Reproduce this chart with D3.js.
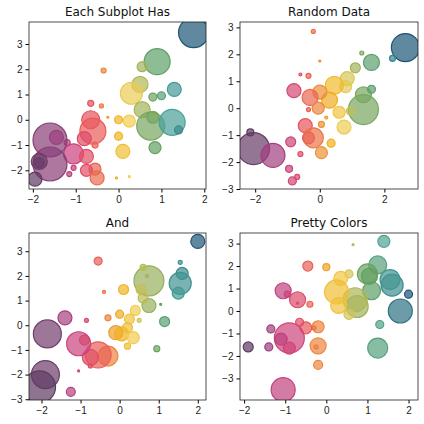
<!DOCTYPE html>
<html><head><meta charset="utf-8">
<script src="https://cdnjs.cloudflare.com/ajax/libs/d3/7.8.5/d3.min.js"></script>
<style>body{margin:0;background:#fff}svg{font-family:"DejaVu Sans",sans-serif}</style>
</head><body><svg id="chart" width="424" height="424"></svg>
<script>
const titles = ["Each Subplot Has", "Random Data", "And", "Pretty Colors"];

// [x, y, size] per subplot
const data1 = [[1.75,3.45,15],[0.9,2.3,13],[0.55,2.1,5],[0.5,1.4,8],[0.3,1.05,11],[1.3,1.2,7],[0.8,0.9,4],[1.0,0.95,4],
 [0.55,0.4,8],[0.8,0.1,6],[0.75,-0.25,14],[1.25,-0.1,13],[1.4,-0.4,4],[0.85,-1.1,6],[0.25,-0.05,6],[0.0,0.0,4],
 [0.0,-0.65,4],[0.1,-1.25,7],[-0.05,-2.3,1],[0.25,-2.25,1],[-0.25,0.1,1],[-0.4,0.55,2],[-0.65,0.65,3],[-0.35,1.95,2.5],
 [-0.65,0.0,9],[-0.6,-0.45,13],[-0.8,-0.75,7],[-0.55,-1.0,3],[-1.2,-0.9,3],[-1.05,-1.35,10],[-0.75,-1.45,7],
 [-0.55,-1.95,6],[-0.75,-2.0,6],[-0.5,-2.3,7],[-1.05,-1.9,2.5],[-1.15,-2.15,2.5],[-1.6,-0.8,17],[-1.45,-0.7,7],
 [-1.6,-1.75,17],[-1.85,-1.65,8],[-1.95,-2.35,7],[-1.85,-1.7,5]];
const data2 = [[2.65,2.25,14],[2.25,1.85,3],[1.6,1.7,8],[1.1,1.5,5],[1.3,2.05,2],[0.85,1.1,7],[0.8,0.8,6],[0.45,0.85,9],
 [1.35,0.5,8],[1.6,0.7,4],[1.35,-0.05,15],[0.95,-0.1,4],[0.6,-0.15,6],[0.75,-0.7,7],[0.3,0.3,8],[0.0,0.6,7],
 [-0.3,0.4,8],[-0.05,0.0,6],[-0.35,-0.05,2],[0.2,-0.35,1.5],[0.05,-0.6,3],[-0.45,-0.65,7],[-0.2,-1.1,10],
 [-0.35,-1.1,6],[0.35,-1.3,4],[0.05,-1.65,6],[-0.6,-1.7,2.5],[-0.9,-1.25,5],[-0.8,0.65,7],[-0.35,1.2,2.5],
 [-0.6,1.25,1.5],[-0.2,2.85,2],[0.0,1.75,1],[-0.95,-2.25,3.5],[-0.7,-2.55,2.5],[-0.85,-2.7,4],[-2.05,-1.5,16],
 [-1.45,-1.75,12],[-2.15,-0.9,3.5]];
const data3 = [[2.0,3.4,7],[1.55,2.55,2],[1.6,2.1,6],[1.55,1.7,11],[1.5,1.3,6],[1.15,0.15,5],[0.95,-0.95,3],[0.75,1.8,15],
 [0.55,1.45,5],[0.6,2.35,3],[0.7,2.0,1.5],[0.75,0.8,7],[0.6,1.1,5],[1.05,0.85,1],[0.4,0.6,5],[0.25,0.25,5],
 [0.5,0.2,2],[0.0,0.45,4],[0.1,1.45,5],[-0.3,0.3,3],[-0.1,-0.3,7],[0.05,-0.35,7],[0.2,-0.1,5],[0.35,-0.5,6],
 [0.2,-0.85,3],[-0.3,-1.25,10],[-0.55,-1.2,13],[-0.75,-1.3,8],[-0.75,-1.65,2],[-1.05,-0.75,12],[-0.9,-0.6,5],
 [-1.4,0.3,7],[-0.85,0.2,2],[-0.4,1.35,1.5],[-0.55,2.6,4],[-1.85,-0.35,14],[-1.9,-2.0,14],[-2.05,-2.5,16],
 [-1.25,-2.7,4.5],[-1.05,-1.85,1]];
const data4 = [[1.8,0.0,12],[2.0,0.75,4],[1.6,1.15,11],[1.55,1.4,10],[1.4,3.1,6],[1.25,2.05,9],[1.3,-0.6,4],[1.25,-1.65,10],
 [1.1,0.9,9],[1.0,1.65,10],[1.05,1.55,8],[0.75,0.2,11],[0.7,0.5,12],[0.65,2.95,1],[0.55,1.65,4],[0.35,1.45,7],
 [0.25,0.85,12],[0.3,0.25,8],[0.55,-0.15,5],[0.0,1.95,3.5],[-0.45,2.0,5],[-0.2,-0.7,6],[-0.3,-0.75,2],
 [-0.2,-1.55,8],[-0.25,-1.6,2],[-0.2,-2.4,4.5],[-0.5,-0.75,6],[-0.65,-0.5,4],[-0.4,0.3,3],[-0.7,0.5,8],
 [-0.7,0.35,1],[-1.05,0.9,8],[-0.95,0.75,3],[-0.9,-1.2,15],[-1.1,-1.25,6],[-0.9,-1.65,6],[-1.35,-0.8,4],
 [-1.4,-1.6,4],[-1.9,-1.6,5],[-1.05,-3.5,12]];

const xDomains = [[-2.09,2.04],[-2.47,3.04],[-2.32,2.21],[-2.1,2.23]];
const yDomains = [[-2.74,3.87],[-3.0,3.2],[-3.03,3.74],[-3.96,3.47]];
const xTicks = [[-2,-1,0,1,2],[-2,0,2],[-2,-1,0,1,2],[-2,-1,0,1,2]];
const yTicks = [[-2,-1,0,1,2,3],[-3,-2,-1,0,1,2,3],[-3,-2,-1,0,1,2,3],[-3,-2,-1,0,1,2,3]];
const allData = [data1, data2, data3, data4];

const colorStops = ["#5c3b61","#9a3f7f","#c9427f","#e8525e","#ec8a3d","#efb21f","#f2cf55","#a8b55a","#5f9f62","#4ba39a","#1d5575"];
const colorPos = [0, 0.13, 0.24, 0.35, 0.44, 0.52, 0.6, 0.67, 0.76, 0.86, 1];
const cmap = d3.scaleLinear().domain(colorPos).range(colorStops);

const boxes = [[29,22,206,189],[240,22,418,189],[29,233,206,400],[240,233,418,400]];
const svg = d3.select("#chart");

allData.forEach((pts, k) => {
  const [l, t, r, b] = boxes[k];
  const x = d3.scaleLinear().domain(xDomains[k]).range([l, r]);
  const y = d3.scaleLinear().domain(yDomains[k]).range([b, t]);
  const c = d3.scaleLinear().domain(d3.extent(pts, d => d[0])).range([0, 1]);
  const g = svg.append("g");
  const clipId = "clip" + k;
  g.append("clipPath").attr("id", clipId).append("rect")
    .attr("x", l).attr("y", t).attr("width", r - l).attr("height", b - t);

  g.append("g").attr("clip-path", `url(#${clipId})`)
    .selectAll("circle").data(pts).enter().append("circle")
    .attr("cx", d => x(d[0])).attr("cy", d => y(d[1])).attr("r", d => d[2])
    .attr("fill", d => cmap(c(d[0]))).attr("fill-opacity", 0.7)
    .attr("stroke", d => cmap(c(d[0]))).attr("stroke-width", 1.2);

  g.append("g").attr("transform", `translate(0,${b})`)
    .call(d3.axisBottom(x).tickValues(xTicks[k]).tickSize(3.5).tickFormat(d => d < 0 ? "\u2212" + (-d) : d))
    .call(a => a.select(".domain").remove())
    .selectAll("text").attr("font-size", 10).attr("fill", "#222");
  g.append("g").attr("transform", `translate(${l},0)`)
    .call(d3.axisLeft(y).tickValues(yTicks[k]).tickSize(3.5).tickFormat(d => d < 0 ? "\u2212" + (-d) : d))
    .call(a => a.select(".domain").remove())
    .selectAll("text").attr("font-size", 10).attr("fill", "#222");

  g.append("rect").attr("x", l).attr("y", t).attr("width", r - l).attr("height", b - t)
    .attr("fill", "none").attr("stroke", "#222").attr("stroke-width", 0.8);

  g.append("text").attr("x", (l + r) / 2).attr("y", t - 6).attr("text-anchor", "middle")
    .attr("font-size", 12).attr("fill", "#111").text(titles[k]);
});
</script></body></html>
